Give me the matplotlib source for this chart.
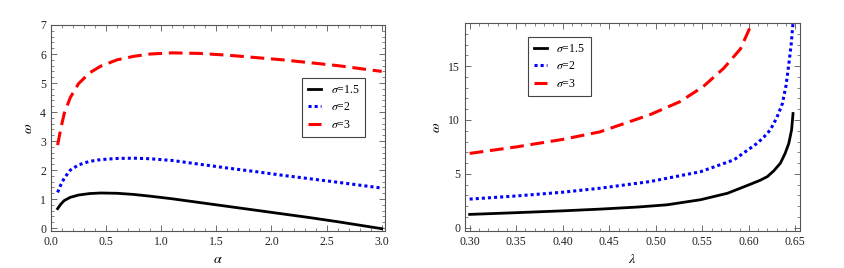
import numpy as np
import matplotlib.pyplot as plt
from matplotlib.ticker import MultipleLocator

plt.rcParams['font.family'] = ['Liberation Serif', 'DejaVu Serif']
plt.rcParams['mathtext.fontset'] = 'stix'

# left panel: omega vs alpha
alpha = [0.06, 0.09, 0.12, 0.175, 0.25, 0.35, 0.45, 0.6, 0.75, 0.9, 1.1, 1.35, 1.6, 1.85, 2.1, 2.35, 2.6, 2.8, 3.0]
w_15_a = [0.67, 0.83, 0.95, 1.06, 1.14, 1.19, 1.21, 1.20, 1.16, 1.10, 1.01, 0.88, 0.75, 0.62, 0.49, 0.36, 0.22, 0.10, -0.02]
w_2_a = [1.23, 1.50, 1.72, 2.00, 2.18, 2.30, 2.36, 2.40, 2.41, 2.39, 2.33, 2.20, 2.07, 1.95, 1.82, 1.70, 1.58, 1.48, 1.38]
w_3_a = [2.86, 3.45, 3.95, 4.50, 4.98, 5.35, 5.58, 5.80, 5.92, 6.00, 6.04, 6.02, 5.96, 5.88, 5.80, 5.70, 5.60, 5.50, 5.40]

# right panel: omega vs lambda
lam_15 = [0.30, 0.35, 0.40, 0.44, 0.48, 0.512, 0.548, 0.577, 0.60, 0.612, 0.62, 0.627, 0.634, 0.639, 0.643, 0.646, 0.6475]
w_15_l = [1.24, 1.40, 1.57, 1.73, 1.92, 2.13, 2.60, 3.20, 3.98, 4.40, 4.75, 5.30, 6.00, 6.90, 7.84, 9.10, 10.6]
lam_2 = [0.30, 0.35, 0.40, 0.44, 0.494, 0.548, 0.584, 0.609, 0.616, 0.623, 0.630, 0.636, 0.640, 0.643, 0.6455, 0.6475]
w_2_l = [2.66, 2.95, 3.30, 3.67, 4.29, 5.20, 6.30, 7.84, 8.40, 9.07, 10.2, 11.5, 13.2, 15.2, 17.0, 19.0]
lam_3 = [0.30, 0.35, 0.40, 0.44, 0.494, 0.526, 0.551, 0.573, 0.591, 0.605]
w_3_l = [6.90, 7.50, 8.20, 8.90, 10.5, 11.7, 13.1, 14.8, 16.6, 19.3]

labels = [r'$\sigma$=1.5', r'$\sigma$=2', r'$\sigma$=3']

fig = plt.figure(figsize=(8.44, 2.68), dpi=100)
ax1 = fig.add_axes([51/844, 1-231/268, 334/844, 206/268])
ax2 = fig.add_axes([465/844, 1-231/268, 335/844, 208/268])

def style(ax):
    for s in ax.spines.values():
        s.set_color('#555555')
        s.set_linewidth(0.8)
    ax.tick_params(which='both', direction='in', top=True, right=True,
                   labelsize=8.5, colors='#555555', labelcolor='#222222')
    ax.tick_params(which='major', length=4, width=0.6)
    ax.tick_params(which='minor', length=2, width=0.5)

dash = (0, (4.5, 2.2))
dots = (0, (1, 1))

ax1.plot(alpha, w_15_a, color='black', lw=2, label=labels[0])
ax1.plot(alpha, w_2_a, color='blue', lw=2.2, ls=dots, label=labels[1])
ax1.plot(alpha, w_3_a, color='red', lw=2.2, ls=dash, label=labels[2])
ax1.set_xlim(0, 3.03)
ax1.set_ylim(-0.1, 7)
ax1.xaxis.set_major_locator(MultipleLocator(0.5))
ax1.xaxis.set_minor_locator(MultipleLocator(0.1))
ax1.yaxis.set_major_locator(MultipleLocator(1))
ax1.yaxis.set_minor_locator(MultipleLocator(0.2))
ax1.set_xlabel(r'$\alpha$', fontsize=10)
ax1.set_ylabel(r'$\omega$', fontsize=10)
style(ax1)
leg1 = ax1.legend(loc='upper left', bbox_to_anchor=(0.735, 0.77), fontsize=8.5,
                  fancybox=False, framealpha=1, edgecolor='#444444',
                  handlelength=1.1, borderpad=0.5, labelspacing=0.45)
leg1.get_frame().set_linewidth(0.8)

ax2.plot(lam_15, w_15_l, color='black', lw=2, label=labels[0])
ax2.plot(lam_2, w_2_l, color='blue', lw=2.2, ls=dots, label=labels[1])
ax2.plot(lam_3, w_3_l, color='red', lw=2.2, ls=dash, label=labels[2])
ax2.set_xlim(0.295, 0.655)
ax2.set_ylim(-0.3, 19)
ax2.xaxis.set_major_locator(MultipleLocator(0.05))
ax2.xaxis.set_minor_locator(MultipleLocator(0.01))
ax2.yaxis.set_major_locator(MultipleLocator(5))
ax2.yaxis.set_minor_locator(MultipleLocator(1))
ax2.set_xlabel(r'$\lambda$', fontsize=10)
ax2.set_ylabel(r'$\omega$', fontsize=10)
style(ax2)
leg2 = ax2.legend(loc='upper left', bbox_to_anchor=(0.17, 0.96), fontsize=8.5,
                  fancybox=False, framealpha=1, edgecolor='#444444',
                  handlelength=1.1, borderpad=0.5, labelspacing=0.45)
leg2.get_frame().set_linewidth(0.8)

fig.savefig('out.png', dpi=100)
